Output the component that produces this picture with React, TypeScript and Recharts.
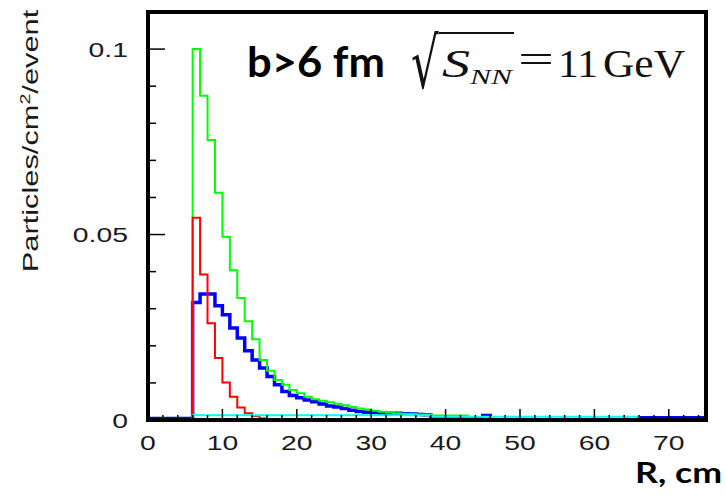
import React from 'react';
import { LineChart, Line, XAxis, YAxis } from 'recharts';

// 1 cm bins, lower edges 0..74 (last edge 75 closes the histogram)
const rEdges = Array.from({ length: 76 }, (_, i) => i);

const blueHist = [
  0.0004, 0.0004, 0.0004, 0.0004, 0.0004, 0.0004,
  0.0317, 0.0340, 0.0340, 0.0308, 0.0284, 0.0248, 0.0221, 0.0187, 0.0162, 0.0140,
  0.0117, 0.0095, 0.0077, 0.0066, 0.0060, 0.0054, 0.0049, 0.0043, 0.0038, 0.0035,
  0.0031, 0.0026, 0.0023, 0.0021, 0.0020, 0.0019, 0.0018, 0.0018, 0.0017, 0.0016,
  0.0015, 0.0014, 0.0006, 0.0006, 0.0006, 0.0006, 0.0006, 0.0003, 0.0003, 0.0012,
  0, 0, 0, 0, 0, 0, 0, 0, 0, 0,
  0, 0, 0, 0, 0, 0, 0, 0, 0, 0,
  0.0006, 0.0006, 0.0006, 0.0006, 0.0006, 0.0006, 0.0006, 0.0006, 0.0006,
];

const greenHist = [
  0, 0, 0, 0, 0, 0,
  0.1000, 0.0874, 0.0755, 0.0613, 0.0494, 0.0404, 0.0329, 0.0266, 0.0218, 0.0162,
  0.0133, 0.0108, 0.0095, 0.0081, 0.0072, 0.0063, 0.0056, 0.0052, 0.0048, 0.0044,
  0.0040, 0.0035, 0.0031, 0.0028, 0.0025, 0.0022, 0.0020, 0.0018, 0.0017, 0.0016,
  0.0015, 0.0015, 0.0012, 0.0012, 0.0012, 0.0012, 0.0012, 0.0003, 0.0003, 0,
  0, 0, 0, 0, 0, 0, 0, 0, 0, 0,
  0, 0, 0, 0, 0, 0, 0, 0, 0, 0,
  0, 0, 0, 0, 0, 0, 0, 0, 0,
];

const redHist = [
  0, 0, 0, 0, 0, 0,
  0.0545, 0.0392, 0.0261, 0.0167, 0.0101, 0.0063, 0.0034, 0.0018, 0.0011, 0.0004,
  0, 0, 0, 0, 0, 0, 0, 0, 0, 0,
  0, 0, 0, 0, 0, 0, 0, 0, 0, 0,
  0, 0, 0, 0, 0, 0, 0, 0, 0, 0,
  0, 0, 0, 0, 0, 0, 0, 0, 0, 0,
  0, 0, 0, 0, 0, 0, 0, 0, 0, 0,
  0, 0, 0, 0, 0, 0, 0, 0, 0,
];

const cyanHist = [
  0, 0, 0, 0, 0, 0,
  0.0013, 0.0013, 0.0013, 0.0013, 0.0013, 0.0013, 0.0013, 0.0013, 0.0013, 0.0013,
  0.0013, 0.0013, 0.0013, 0.0013, 0.0013, 0.0013, 0.0013, 0.0013, 0.0013, 0.0013,
  0.0013, 0.0013, 0.0013, 0.0013, 0.0013, 0.0013, 0.0013, 0.0013, 0.0013, 0.0013,
  0.0013, 0.0013, 0.0009, 0.0009, 0.0009, 0.0009, 0.0009, 0.0009, 0.0009, 0.0009,
  0.0009, 0.0009, 0.0009, 0.0009, 0.0009, 0.0009, 0.0009, 0.0009, 0.0009, 0.0009,
  0.0009, 0.0009, 0.0009, 0.0009, 0.0009, 0.0009, 0.0009, 0.0009, 0.0009, 0.0009,
  0, 0, 0, 0, 0, 0, 0, 0, 0,
];

const xTicks = [0, 2, 4, 6, 8, 10, 12, 14, 16, 18, 20, 22, 24, 26, 28, 30, 32, 34, 36,
  38, 40, 42, 44, 46, 48, 50, 52, 54, 56, 58, 60, 62, 64, 66, 68, 70, 72, 74];
const yTicks = [0, 0.01, 0.02, 0.03, 0.04, 0.05, 0.06, 0.07, 0.08, 0.09, 0.1];
const yMajor = [0, 0.05, 0.1];
const yMajorLabels = ['0', '0.05', '0.1'];

const data = rEdges.map((r, i) => {
  const k = Math.min(i, blueHist.length - 1);
  return { r, blue: blueHist[k], green: greenHist[k], red: redHist[k], cyan: cyanHist[k] };
});

const TICK_FONT = '"Liberation Sans", Arial, sans-serif';
const frame = { stroke: '#000', strokeWidth: 4, strokeLinecap: 'square' as const };

const renderXTick = (props: any) => {
  const { x, y, payload } = props;
  const v = payload.value;
  const major = v % 10 === 0;
  return (
    <g>
      <line x1={x} x2={x} y1={y} y2={y - (major ? 11 : 5)} stroke="#000" strokeWidth={1.5} />
      {major && (
        <text transform={`translate(${x},${y + 30}) scale(1.35,1)`} textAnchor="middle"
          fontFamily={TICK_FONT} fontSize={21} fill="#1a1a1a">
          {v}
        </text>
      )}
    </g>
  );
};

const renderYTick = (props: any) => {
  const { x, y, payload } = props;
  const idx = yMajor.findIndex((m) => Math.abs(m - payload.value) < 1e-9);
  const major = idx >= 0;
  return (
    <g>
      <line x1={x} x2={x + (major ? 17 : 8)} y1={y} y2={y} stroke="#000" strokeWidth={1.5} />
      {major && (
        <text transform={`translate(${x - 20},${y + 7.5}) scale(1.35,1)`} textAnchor="end"
          fontFamily={TICK_FONT} fontSize={21} fill="#1a1a1a">
          {yMajorLabels[idx]}
        </text>
      )}
    </g>
  );
};

export default function App() {
  return (
    <div style={{ position: 'absolute', left: 0, top: 0, width: 726, height: 497, background: '#fff' }}>
      <LineChart width={726} height={497} data={data} margin={{ top: 11, right: 19, bottom: 0, left: 0 }}>
        <XAxis dataKey="r" type="number" domain={[0, 75]} ticks={xTicks} interval={0}
          tick={renderXTick} tickLine={false} tickSize={0} tickMargin={0} height={77} axisLine={frame} />
        <XAxis xAxisId="top" orientation="top" dataKey="r" type="number" domain={[0, 75]}
          ticks={[0, 75]} tick={false} tickLine={false} height={1} axisLine={frame} />
        <YAxis type="number" domain={[0, 0.11]} ticks={yTicks} interval={0}
          tick={renderYTick} tickLine={false} tickSize={0} tickMargin={0} width={148} axisLine={frame} />
        <YAxis yAxisId="right" orientation="right" type="number" domain={[0, 0.11]}
          ticks={[0, 0.11]} tick={false} tickLine={false} width={1} axisLine={frame} />
        <Line dataKey="blue" type="stepAfter" stroke="#0000ff" strokeWidth={3.5} dot={false} activeDot={false} isAnimationActive={false} />
        <Line dataKey="green" type="stepAfter" stroke="#00ff00" strokeWidth={2} dot={false} activeDot={false} isAnimationActive={false} />
        <Line dataKey="red" type="stepAfter" stroke="#ff0000" strokeWidth={2} dot={false} activeDot={false} isAnimationActive={false} />
        <Line dataKey="cyan" type="stepAfter" stroke="#00ffff" strokeWidth={2} dot={false} activeDot={false} isAnimationActive={false} />
      </LineChart>

      <svg width={726} height={497} style={{ position: 'absolute', left: 0, top: 0, pointerEvents: 'none' }}>
        <text transform="translate(38,141) rotate(-90) scale(1.4,1)" textAnchor="middle"
          fontFamily={TICK_FONT} fontSize={22} fill="#1a1a1a">
          Particles/cm<tspan dy={-8} fontSize={14}>2</tspan><tspan dy={8}>/event</tspan>
        </text>

        <text x={247} y={77} fontFamily="Lato, sans-serif" fontWeight={700} fontSize={42}
          textLength={138} lengthAdjust="spacingAndGlyphs" fill="#000">
          {'b>6 fm'}
        </text>

        <text transform="translate(411,88) scale(0.62,1)" fontFamily='"DejaVu Serif", serif' fontSize={70} fill="#111">√</text>
        <line x1={439} y1={33} x2={514} y2={33} stroke="#111" strokeWidth={2} />
        <text x={442} y={77} fontFamily='"Liberation Serif", serif' fontStyle="italic" fontSize={40}
          textLength={28} lengthAdjust="spacingAndGlyphs" fill="#111">S</text>
        <text x={470} y={84} fontFamily='"Liberation Serif", serif' fontStyle="italic" fontSize={21}
          textLength={42} lengthAdjust="spacingAndGlyphs" fill="#111">NN</text>
        <text x={518} y={73} fontFamily='"Liberation Serif", serif' fontSize={40}
          textLength={36} lengthAdjust="spacingAndGlyphs" fill="#111">=</text>
        <text x={558} y={77} fontFamily='"Liberation Serif", serif' fontSize={40}
          textLength={40} lengthAdjust="spacingAndGlyphs" fill="#111">11</text>
        <text x={603} y={77} fontFamily='"Liberation Serif", serif' fontSize={40}
          textLength={82} lengthAdjust="spacingAndGlyphs" fill="#111">GeV</text>

        <text x={635} y={483} fontFamily="Lato, sans-serif" fontWeight={700} fontSize={28}
          textLength={87} lengthAdjust="spacingAndGlyphs" fill="#000">R, cm</text>
      </svg>
    </div>
  );
}
